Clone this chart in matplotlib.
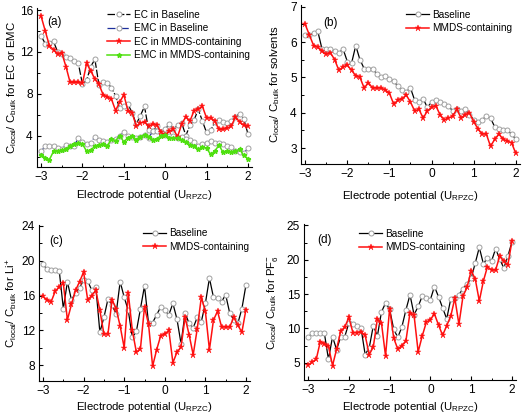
"""
Four-panel chart: local/bulk concentration ratio vs electrode potential,
Baseline vs MMDS-containing electrolyte.
"""

import numpy as np
import matplotlib
matplotlib.use("Agg")
import matplotlib.pyplot as plt
from matplotlib.ticker import MultipleLocator

plt.rcParams["font.family"] = ["Liberation Sans", "DejaVu Sans"]
plt.rcParams["mathtext.default"] = "regular"

W, H = 522, 416

# potential grid (U_RPZC)
potential = np.round(np.arange(-3.0, 2.0001, 0.1), 1)

# ---------- (a) EC / EMC ----------
ec_base = [13.5, 12.8, 12.9, 13.0, 12.0, 11.8, 11.5, 11.4, 11.1, 10.9,
           8.9, 9.3, 10.6, 11.3, 8.8, 9.1, 9.0, 8.6, 7.8, 6.6,
           6.8, 7.0, 6.2, 5.1, 5.9, 6.8, 4.5, 4.4, 4.9, 4.3,
           4.6, 5.1, 4.6, 5.0, 5.2, 4.0, 5.0, 5.5, 6.5, 5.4,
           4.3, 4.5, 5.3, 5.5, 5.3, 5.2, 5.4, 5.8, 6.1, 5.6, 4.2]
emc_base = [2.5, 3.0, 3.0, 3.0, 2.8, 2.7, 3.1, 3.0, 3.0, 3.8,
            3.4, 3.2, 3.3, 3.9, 3.6, 3.5, 3.4, 3.6, 3.7, 4.0,
            4.3, 4.0, 3.9, 3.8, 3.9, 4.1, 3.8, 4.4, 4.4, 4.3,
            4.1, 4.0, 4.0, 3.8, 3.9, 3.7, 3.6, 3.4, 3.0, 3.2,
            3.3, 3.5, 3.3, 3.3, 3.2, 3.0, 2.9, 2.5, 2.4, 2.3, 2.8]
ec_mmds = [15.4, 14.0, 12.6, 12.2, 11.8, 11.9, 10.6, 9.1, 9.1, 9.1,
           9.0, 10.9, 10.2, 9.4, 8.9, 7.9, 7.7, 7.5, 6.4, 7.2,
           7.9, 6.4, 6.2, 4.9, 5.2, 5.3, 4.9, 5.1, 5.0, 4.3,
           4.1, 4.4, 4.6, 3.9, 5.1, 5.8, 5.4, 6.4, 6.5, 6.8,
           5.7, 5.7, 5.4, 4.6, 4.6, 4.7, 4.9, 5.8, 5.3, 5.0, 4.9]
emc_mmds = [2.1, 1.9, 1.7, 2.5, 2.5, 2.6, 2.7, 3.0, 3.2, 3.3,
            3.2, 2.5, 2.6, 3.0, 3.1, 3.2, 3.0, 3.7, 3.5, 4.0,
            3.4, 3.8, 4.0, 3.6, 3.9, 4.1, 3.9, 3.6, 3.7, 4.0,
            4.1, 3.8, 3.8, 3.8, 3.6, 3.4, 3.1, 3.0, 2.7, 2.9,
            2.8, 2.2, 2.5, 3.1, 2.4, 2.5, 2.4, 2.5, 2.7, 2.1, 1.8]

# ---------- (b) solvents ----------
solv_base = [6.2, 6.2, 6.25, 6.3, 5.8, 5.8, 5.8, 5.75, 5.7, 5.8,
             5.45, 5.4, 5.9, 5.5, 5.25, 5.25, 5.25, 5.1, 5.0, 5.05,
             4.95, 4.9, 4.75, 4.65, 4.6, 4.7, 4.35, 4.3, 4.4, 4.15,
             4.3, 4.35, 4.3, 4.25, 4.2, 4.05, 4.1, 4.05, 4.1, 3.95,
             3.8, 3.75, 3.8, 3.9, 3.85, 3.6, 3.55, 3.5, 3.5, 3.4, 3.25]
solv_mmds = [6.5, 6.2, 5.9, 5.85, 5.75, 5.65, 5.7, 5.5, 5.2, 5.3,
             5.35, 5.2, 5.05, 5.0, 4.7, 4.85, 4.7, 4.7, 4.7, 4.65,
             4.55, 4.25, 4.35, 4.4, 4.5, 4.3, 4.05, 4.1, 3.85, 4.05,
             4.15, 4.2, 3.95, 3.8, 3.85, 3.9, 4.1, 3.85, 3.95, 4.0,
             3.75, 3.55, 3.4, 3.4, 3.05, 3.25, 3.4, 3.25, 3.2, 3.15, 2.85]

# ---------- (c) Li+ ----------
li_base = [19.6, 19.0, 18.9, 18.9, 18.8, 14.5, 17.6, 15.5, 16.3, 16.9,
           17.8, 17.7, 16.6, 17.0, 11.8, 13.5, 15.6, 14.9, 13.9, 17.6,
           15.8, 14.3, 11.2, 11.9, 14.5, 17.1, 12.8, 12.9, 13.8, 14.7,
           14.3, 13.8, 15.1, 13.3, 10.5, 14.0, 12.8, 12.3, 13.5, 13.0,
           15.1, 18.0, 15.8, 15.7, 15.3, 16.1, 14.0, 13.2, 12.8, 14.5, 17.2]
li_mmds = [15.9, 15.5, 15.3, 16.5, 17.0, 17.4, 13.2, 15.0, 16.6, 17.6,
           18.7, 15.5, 16.0, 16.6, 14.3, 11.6, 11.6, 15.5, 14.5, 12.5,
           10.0, 16.3, 12.0, 9.5, 9.9, 14.7, 12.7, 7.9, 9.8, 11.4,
           11.6, 12.0, 8.3, 9.5, 10.1, 13.5, 11.5, 9.2, 12.2, 15.8,
           14.2, 9.8, 13.2, 14.2, 12.4, 12.4, 12.4, 13.5, 12.6, 11.8, 14.4]

# ---------- (d) PF6- ----------
pf6_base = [8.7, 9.3, 9.4, 9.3, 9.3, 5.5, 8.8, 6.9, 8.8, 8.8,
            10.8, 10.6, 10.3, 10.0, 6.2, 7.2, 10.4, 8.9, 12.4, 13.7,
            12.8, 9.9, 8.7, 10.2, 12.7, 14.9, 12.0, 13.2, 14.7, 14.5,
            14.2, 16.1, 14.6, 13.0, 11.4, 14.3, 14.4, 14.9, 15.8, 16.5,
            17.3, 19.5, 21.8, 19.4, 20.3, 19.8, 21.6, 20.1, 18.8, 20.5, 22.6]
pf6_mmds = [4.7, 5.1, 5.5, 8.1, 7.8, 7.4, 4.6, 7.0, 9.6, 10.2,
            11.6, 9.4, 9.4, 9.5, 9.0, 6.2, 7.3, 11.4, 10.8, 6.0,
            12.9, 8.6, 7.0, 7.5, 8.2, 12.3, 11.9, 6.6, 8.9, 10.9,
            11.3, 12.1, 10.5, 9.0, 10.4, 11.8, 14.4, 10.6, 14.7, 16.0,
            18.4, 17.2, 14.0, 16.9, 19.0, 18.5, 18.5, 20.5, 19.8, 19.2, 22.7]

RED = "#ff1010"
GREEN = "#4fe010"
BLUE = "#1c2f9c"
base_kw = dict(marker="o", ms=3.6, mfc="white", mec="#a0a0a0", mew=0.7)
mmds_kw = dict(marker="*", ms=4.5, mfc=RED, mec=RED, mew=0.3)


def px_axes(left, top, right, bottom):
    """axes rectangle from pixel edges of the 522x416 picture"""
    return [left / W, 1 - bottom / H, (right - left) / W, (bottom - top) / H]


def style(ax, ylim, major, minor, ylabel, ylab_x, xlab_y):
    ax.set_xlim(-3.1, 2.1)
    ax.set_ylim(*ylim)
    ax.xaxis.set_major_locator(MultipleLocator(1))
    ax.xaxis.set_minor_locator(MultipleLocator(0.5))
    ax.yaxis.set_major_locator(MultipleLocator(major))
    ax.yaxis.set_minor_locator(MultipleLocator(minor))
    for s in ("top", "right"):
        ax.spines[s].set_visible(False)
    for s in ("left", "bottom"):
        ax.spines[s].set_linewidth(0.8)
    ax.tick_params(which="major", direction="in", length=3, width=0.8,
                   labelsize=8.6, pad=3)
    ax.tick_params(which="minor", direction="in", length=1.8, width=0.7)
    ax.set_xlabel(r"Electrode potential (U$_{RPZC}$)", fontsize=8.2)
    ax.set_ylabel(ylabel, fontsize=8.2)
    ax.yaxis.set_label_coords(ylab_x, 0.5)
    ax.xaxis.set_label_coords(0.5, xlab_y)


fig = plt.figure(figsize=(W / 100, H / 100), dpi=100)

leg_kw = dict(loc="upper left", frameon=False, fontsize=7.2, handlelength=2.3,
              handletextpad=0.35, labelspacing=0.35, borderpad=0,
              borderaxespad=0)

# (a)
ax = fig.add_axes(px_axes(37, 8, 252, 167))
ax.plot(potential, ec_base, color="black", lw=0.9, ls=(0, (6, 1.5)),
        label="EC in Baseline", **base_kw)
ax.plot(potential, emc_base, color=BLUE, lw=0.9, ls="-.",
        label="EMC in Baseline", **base_kw)
ax.plot(potential, ec_mmds, color=RED, lw=1.1,
        label="EC in MMDS-containing", **mmds_kw)
ax.plot(potential, emc_mmds, color=GREEN, lw=1.1, marker="*", ms=3.5,
        mfc=GREEN, mec=GREEN, label="EMC in MMDS-containing")
style(ax, (1, 16.2), 4, 2,
      r"C$_{local}$/ C$_{bulk}$ for EC or EMC", -0.085, -0.135)
ax.legend(bbox_to_anchor=(0.326, 0.99), **leg_kw)
ax.text(55 / W, 1 - 22 / H, "(a)", transform=fig.transFigure,
        ha="center", va="center", fontsize=8.5)

# (b)
ax = fig.add_axes(px_axes(301, 5, 520, 164))
ax.plot(potential, solv_base, color="black", lw=0.9, label="Baseline", **base_kw)
ax.plot(potential, solv_mmds, color=RED, lw=1.1, label="MMDS-containing", **mmds_kw)
style(ax, (2.55, 7.05), 1, 0.5,
      r"C$_{local}$/ C$_{bulk}$ for solvents", -0.085, -0.16)
ax.legend(bbox_to_anchor=(0.48, 0.97), **leg_kw)
ax.text(331 / W, 1 - 23 / H, "(b)", transform=fig.transFigure,
        ha="center", va="center", fontsize=8.5)

# (c)
ax = fig.add_axes(px_axes(39, 225, 250, 381))
ax.plot(potential, li_base, color="black", lw=0.9, label="Baseline", **base_kw)
ax.plot(potential, li_mmds, color=RED, lw=1.1, label="MMDS-containing", **mmds_kw)
style(ax, (6.2, 24.1), 4, 2,
      r"C$_{local}$/ C$_{bulk}$ for Li$^{+}$", -0.09, -0.125)
ax.legend(bbox_to_anchor=(0.493, 0.98), **leg_kw)
ax.text(56 / W, 1 - 241 / H, "(c)", transform=fig.transFigure,
        ha="center", va="center", fontsize=8.5)

# (d)
ax = fig.add_axes(px_axes(304, 224, 516, 380))
ax.plot(potential, pf6_base, color="black", lw=0.9, label="Baseline", **base_kw)
ax.plot(potential, pf6_mmds, color=RED, lw=1.1, label="MMDS-containing", **mmds_kw)
style(ax, (2.5, 25.2), 5, 2.5,
      r"C$_{local}$/ C$_{bulk}$ for PF$_6^{-}$", -0.115, -0.125)
ax.legend(bbox_to_anchor=(0.26, 0.97), **leg_kw)
ax.text(324 / W, 1 - 240 / H, "(d)", transform=fig.transFigure,
        ha="center", va="center", fontsize=8.5)

fig.savefig("out.png", dpi=100)
print("saved out.png")
